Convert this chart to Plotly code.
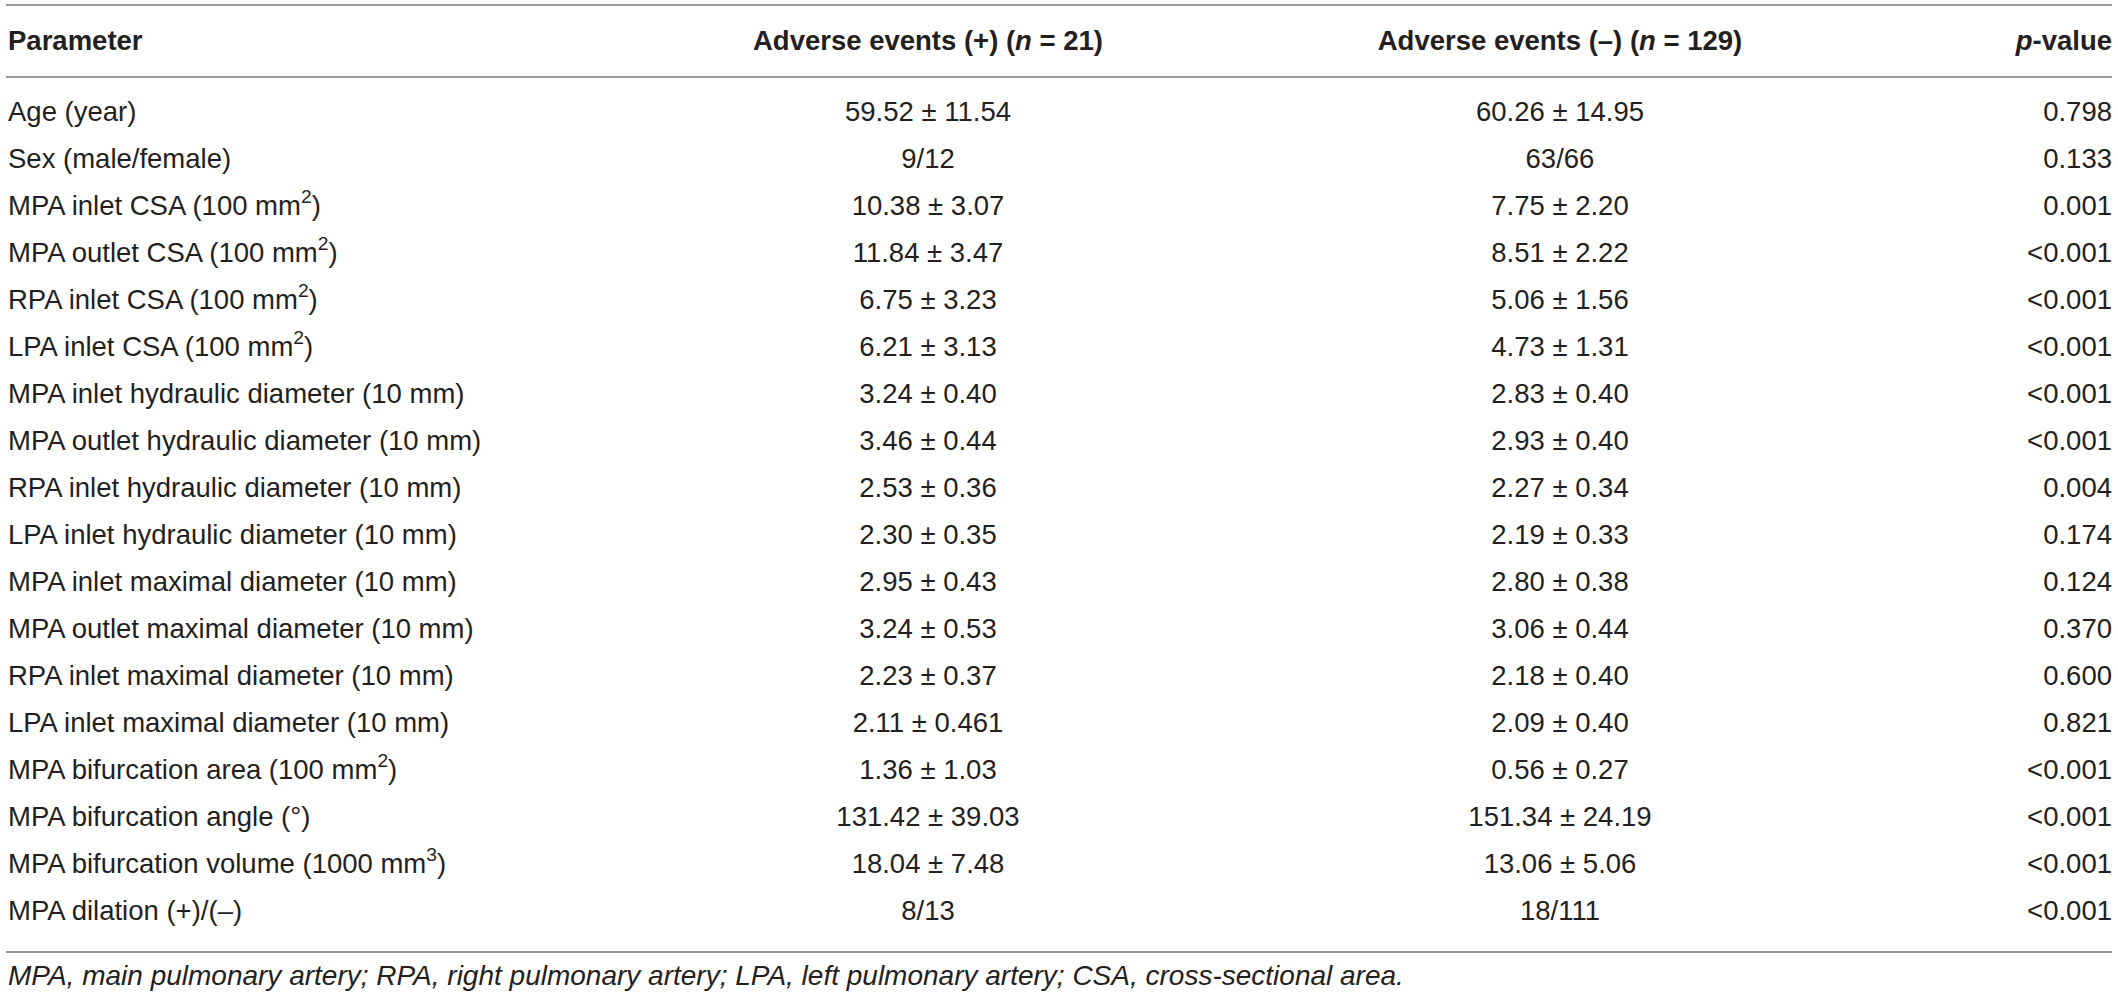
import plotly.graph_objects as go

# ---------------- data ----------------
parameters = [
    "Age (year)",
    "Sex (male/female)",
    "MPA inlet CSA (100 mm<sup>2</sup>)",
    "MPA outlet CSA (100 mm<sup>2</sup>)",
    "RPA inlet CSA (100 mm<sup>2</sup>)",
    "LPA inlet CSA (100 mm<sup>2</sup>)",
    "MPA inlet hydraulic diameter (10 mm)",
    "MPA outlet hydraulic diameter (10 mm)",
    "RPA inlet hydraulic diameter (10 mm)",
    "LPA inlet hydraulic diameter (10 mm)",
    "MPA inlet maximal diameter (10 mm)",
    "MPA outlet maximal diameter (10 mm)",
    "RPA inlet maximal diameter (10 mm)",
    "LPA inlet maximal diameter (10 mm)",
    "MPA bifurcation area (100 mm<sup>2</sup>)",
    "MPA bifurcation angle (°)",
    "MPA bifurcation volume (1000 mm<sup>3</sup>)",
    "MPA dilation (+)/(–)",
]
events_pos = [
    "59.52 ± 11.54", "9/12", "10.38 ± 3.07", "11.84 ± 3.47", "6.75 ± 3.23",
    "6.21 ± 3.13", "3.24 ± 0.40", "3.46 ± 0.44", "2.53 ± 0.36", "2.30 ± 0.35",
    "2.95 ± 0.43", "3.24 ± 0.53", "2.23 ± 0.37", "2.11 ± 0.461", "1.36 ± 1.03",
    "131.42 ± 39.03", "18.04 ± 7.48", "8/13",
]
events_neg = [
    "60.26 ± 14.95", "63/66", "7.75 ± 2.20", "8.51 ± 2.22", "5.06 ± 1.56",
    "4.73 ± 1.31", "2.83 ± 0.40", "2.93 ± 0.40", "2.27 ± 0.34", "2.19 ± 0.33",
    "2.80 ± 0.38", "3.06 ± 0.44", "2.18 ± 0.40", "2.09 ± 0.40", "0.56 ± 0.27",
    "151.34 ± 24.19", "13.06 ± 5.06", "18/111",
]
p_values = [
    "0.798", "0.133", "0.001", "<0.001", "<0.001", "<0.001", "<0.001", "<0.001",
    "0.004", "0.174", "0.124", "0.370", "0.600", "0.821", "<0.001", "<0.001",
    "<0.001", "<0.001",
]
headers = [
    "<b>Parameter</b>",
    "<b>Adverse events (+) (<i>n</i> = 21)</b>",
    "<b>Adverse events (–) (<i>n</i> = 129)</b>",
    "<b><i>p</i></b><b>-value</b>",
]
footnote = ("<i>MPA, main pulmonary artery; RPA, right pulmonary artery; "
            "LPA, left pulmonary artery; CSA, cross-sectional area.</i>")

# ---------------- layout constants (pixels) ----------------
W, H = 2118, 1001
FIRST_ROW_PX, ROW_STEP_PX = 114, 47.0
HEADER_PX, FOOT_PX = 43, 978
RULES_PX = [5, 77, 952]
X_LEFT, X_C1, X_C2, X_RIGHT = 8, 928, 1560, 2112
LINE_X0, LINE_X1 = 6, 2112

FONT = "Liberation Sans, Arial, sans-serif"
TXT = "#231f20"
SIZE = 27.5


def px2row(p):
    return (p - FIRST_ROW_PX) / ROW_STEP_PX


rows = list(range(len(parameters)))

fig = go.Figure()


def add_col(texts, x, ys, pos, size=SIZE):
    fig.add_trace(go.Scatter(
        x=[x] * len(texts), y=ys, text=texts, mode="text",
        textposition=pos, hoverinfo="skip", showlegend=False,
        cliponaxis=False,
        textfont=dict(family=FONT, size=size, color=TXT),
    ))


add_col(parameters, X_LEFT, rows, "middle right")
add_col(events_pos, X_C1, rows, "middle center")
add_col(events_neg, X_C2, rows, "middle center")
add_col(p_values, X_RIGHT, rows, "middle left")

hy = px2row(HEADER_PX)
add_col([headers[0]], X_LEFT, [hy], "middle right")
add_col([headers[1]], X_C1, [hy], "middle center")
add_col([headers[2]], X_C2, [hy], "middle center")
add_col([headers[3]], X_RIGHT, [hy], "middle left")

add_col([footnote], X_LEFT, [px2row(FOOT_PX)], "middle right", size=28)

for r in RULES_PX:
    fig.add_shape(type="line", xref="x", yref="y",
                  x0=LINE_X0, x1=LINE_X1, y0=px2row(r), y1=px2row(r),
                  line=dict(color="#9a9a9a", width=2))

fig.update_layout(
    width=W, height=H,
    margin=dict(l=0, r=0, t=0, b=0),
    paper_bgcolor="white", plot_bgcolor="white",
    xaxis=dict(range=[0, W], visible=False, fixedrange=True),
    yaxis=dict(range=[px2row(H), px2row(0)], visible=False, fixedrange=True),
)

fig.write_html(
    "out.html",
    config={"displayModeBar": False},
    post_script="document.body.style.margin='0';document.body.style.overflow='hidden';",
)
